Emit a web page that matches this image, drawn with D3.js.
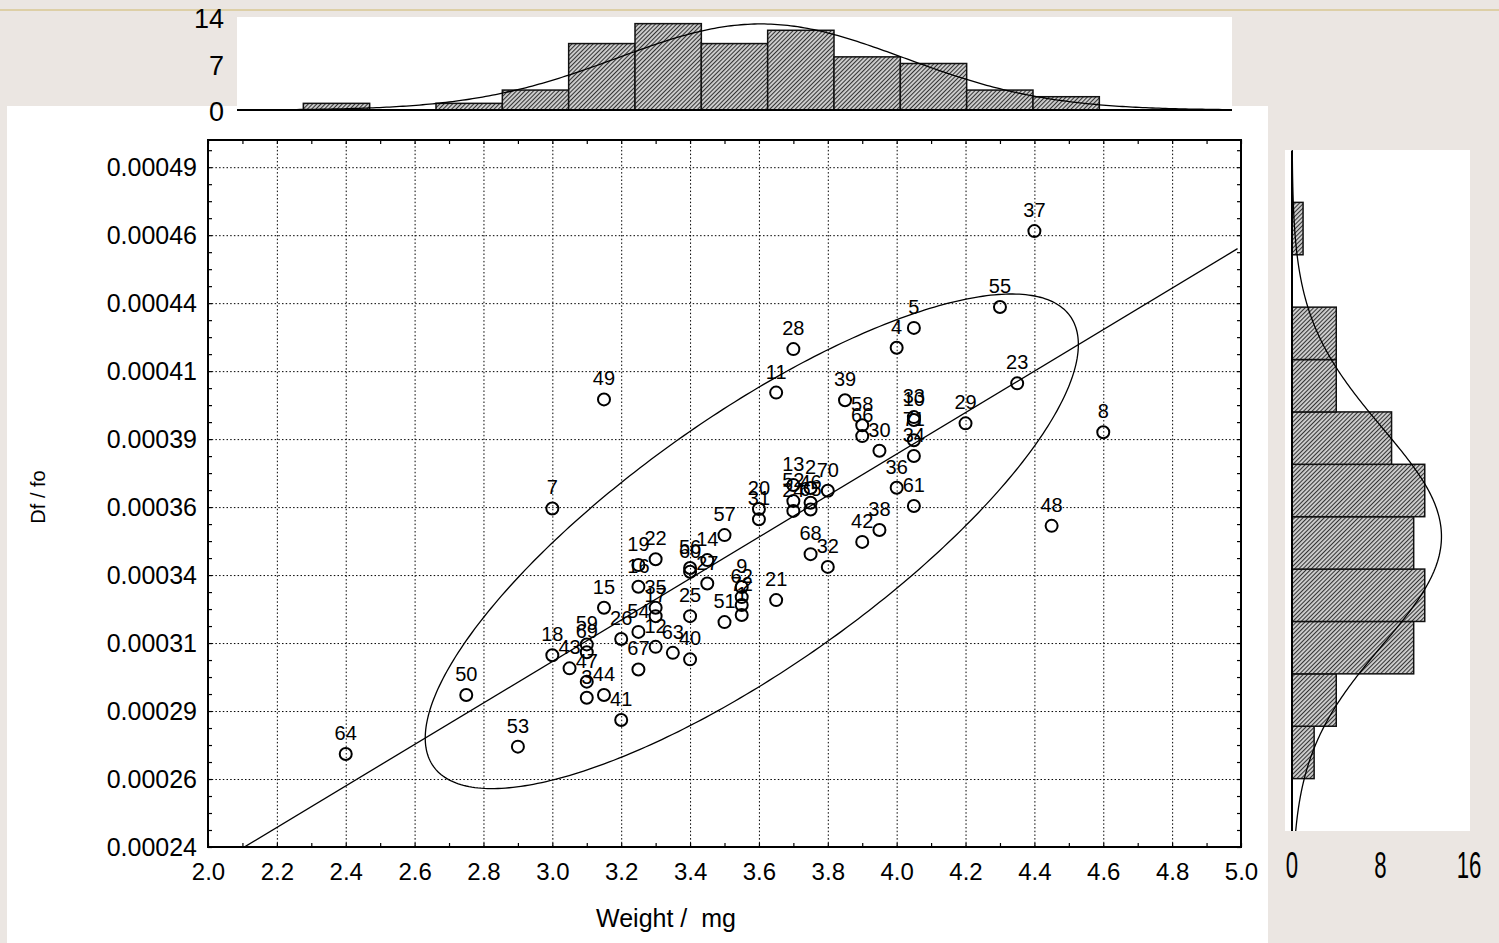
<!DOCTYPE html>
<html>
<head>
<meta charset="utf-8">
<script src="https://cdn.jsdelivr.net/npm/d3@7"></script>
<style>
html, body { margin: 0; padding: 0; background: #ebe6e2; }
svg { display: block; font-family: "Liberation Sans", Arial, sans-serif; }
</style>
</head>
<body>
<svg id="chart" width="1499" height="943"></svg>
<script>
// case numbers, weight (mg) and Df/fo
const pointIds = [64, 50, 53, 7, 18, 43, 59, 69, 47, 3,
  49, 15, 44, 26, 41, 19, 16, 54, 67, 22,
  35, 17, 12, 63, 56, 60, 25, 40, 14, 27,
  57, 51, 9, 62, 72, 1, 20, 31, 21, 11,
  28, 13, 52, 24, 2, 46, 65, 68, 70, 32,
  39, 58, 66, 42, 30, 38, 4, 36, 5, 33,
  10, 71, 34, 61, 29, 55, 23, 37, 48, 8];
const weights = [2.40, 2.75, 2.90, 3.00, 3.00, 3.05, 3.10, 3.10, 3.10, 3.10,
  3.15, 3.15, 3.15, 3.20, 3.20, 3.25, 3.25, 3.25, 3.25, 3.30,
  3.30, 3.30, 3.30, 3.35, 3.40, 3.40, 3.40, 3.40, 3.45, 3.45,
  3.50, 3.50, 3.55, 3.55, 3.55, 3.55, 3.60, 3.60, 3.65, 3.65,
  3.70, 3.70, 3.70, 3.70, 3.75, 3.75, 3.75, 3.75, 3.80, 3.80,
  3.85, 3.90, 3.90, 3.90, 3.95, 3.95, 4.00, 4.00, 4.05, 4.05,
  4.05, 4.05, 4.05, 4.05, 4.20, 4.30, 4.35, 4.40, 4.45, 4.60];
const dffo = [0.0002742, 0.0002959, 0.0002769, 0.0003645, 0.0003105, 0.0003057, 0.0003145, 0.0003116, 0.0003008, 0.0002949,
  0.0004046, 0.0003280, 0.0002959, 0.0003165, 0.0002867, 0.0003437, 0.0003357, 0.0003191, 0.0003053, 0.0003458,
  0.0003280, 0.0003249, 0.0003136, 0.0003114, 0.0003426, 0.0003412, 0.0003249, 0.0003090, 0.0003455, 0.0003369,
  0.0003547, 0.0003227, 0.0003356, 0.0003319, 0.0003290, 0.0003253, 0.0003643, 0.0003605, 0.0003308, 0.0004071,
  0.0004231, 0.0003731, 0.0003672, 0.0003636, 0.0003720, 0.0003666, 0.0003641, 0.0003477, 0.0003710, 0.0003430,
  0.0004043, 0.0003951, 0.0003911, 0.0003522, 0.0003857, 0.0003566, 0.0004236, 0.0003721, 0.0004309, 0.0003981,
  0.0003970, 0.0003896, 0.0003838, 0.0003654, 0.0003958, 0.0004386, 0.0004105, 0.0004665, 0.0003581, 0.0003925];

const xTickValues = [2.0, 2.2, 2.4, 2.6, 2.8, 3.0, 3.2, 3.4, 3.6, 3.8, 4.0, 4.2, 4.4, 4.6, 4.8, 5.0];
const yTickValues = [0.00024, 0.000265, 0.00029, 0.000315, 0.00034, 0.000365, 0.00039, 0.000415, 0.00044, 0.000465, 0.00049];
const yTickLabels = ["0.00024", "0.00026", "0.00029", "0.00031", "0.00034", "0.00036", "0.00039", "0.00041", "0.00044", "0.00046", "0.00049"];

const topBinEdges = [2.2, 2.4, 2.6, 2.8, 3.0, 3.2, 3.4, 3.6, 3.8, 4.0, 4.2, 4.4, 4.6];
const topCountTicks = [0, 7, 14];
const rightBinEdges = [0.00026, 0.00028, 0.0003, 0.00032, 0.00034, 0.00036, 0.00038, 0.0004, 0.00042, 0.00044, 0.00046, 0.00048];
const rightCountTicks = [0, 8, 16];

const ELLIPSE_K = 2.2;   // size of the ellipse
const FONT = "Liberation Sans, Arial, sans-serif";

const svg = d3.select("#chart");

// thin rule at the top of the page
svg.append("line")
    .attr("x1", 0).attr("x2", 1499).attr("y1", 10).attr("y2", 10)
    .attr("stroke", "#d8c792").attr("stroke-width", 1.5);

// white panels
svg.append("rect").attr("x", 7).attr("y", 106).attr("width", 1261).attr("height", 837).attr("fill", "#fff");
svg.append("rect").attr("x", 237).attr("y", 17).attr("width", 995).attr("height", 93).attr("fill", "#fff");
svg.append("rect").attr("x", 1285).attr("y", 150).attr("width", 185).attr("height", 681).attr("fill", "#fff");

// hatch for histogram bars
const defs = svg.append("defs");
const pat = defs.append("pattern")
    .attr("id", "hatch")
    .attr("patternUnits", "userSpaceOnUse")
    .attr("width", 3).attr("height", 3)
    .attr("patternTransform", "rotate(45)");
pat.append("rect").attr("width", 3).attr("height", 3).attr("fill", "#cfcfcf");
pat.append("line").attr("x1", 0.5).attr("y1", 0).attr("x2", 0.5).attr("y2", 3)
    .attr("stroke", "#333").attr("stroke-width", 1.1);

defs.append("clipPath").attr("id", "plotClip")
    .append("rect").attr("x", 208).attr("y", 140).attr("width", 1033).attr("height", 707);

// stats
const pts = pointIds.map((id, i) => ({ id: id, w: weights[i], v: dffo[i] }));
const n = pts.length;
const mx = d3.mean(weights), my = d3.mean(dffo);
const sx = d3.deviation(weights), sy = d3.deviation(dffo);
const r = d3.sum(pts, p => (p.w - mx) * (p.v - my)) / ((n - 1) * sx * sy);
const slope = r * sy / sx;
const icpt = my - slope * mx;

// ----------------------
// main scatter
// ----------------------
const x = d3.scaleLinear().domain([2.0, 5.0]).range([208, 1241]);
const y = d3.scaleLinear().domain([0.00024, 0.0005]).range([847, 140]);
const plotTop = 140, plotBottom = 847, plotLeft = 208, plotRight = 1241;

// dotted grid
svg.append("g")
    .attr("transform", `translate(0,${plotBottom})`)
    .call(d3.axisBottom(x).tickValues(xTickValues).tickSize(-(plotBottom - plotTop)).tickFormat(""))
    .call(g => g.select(".domain").remove())
    .selectAll("line").attr("stroke", "#000").attr("stroke-width", 1).attr("stroke-dasharray", "1.5,2.2");
svg.append("g")
    .attr("transform", `translate(${plotLeft},0)`)
    .call(d3.axisLeft(y).tickValues(yTickValues).tickSize(-(plotRight - plotLeft)).tickFormat(""))
    .call(g => g.select(".domain").remove())
    .selectAll("line").attr("stroke", "#000").attr("stroke-width", 1).attr("stroke-dasharray", "1.5,2.2");

// inward tick marks on all sides
const xMinor = d3.range(2.0, 5.001, 0.1);
const yMinor = d3.range(0.00024, 0.0005001, 0.00000625);
function ticks(axis, tr) {
    svg.append("g").attr("transform", tr).call(axis)
        .call(g => g.select(".domain").remove())
        .selectAll("line").attr("stroke", "#000").attr("stroke-width", 1.2);
}
ticks(d3.axisBottom(x).tickValues(xMinor).tickSize(-4).tickFormat(""), `translate(0,${plotBottom})`);
ticks(d3.axisTop(x).tickValues(xMinor).tickSize(-4).tickFormat(""), `translate(0,${plotTop})`);
ticks(d3.axisLeft(y).tickValues(yMinor).tickSize(-4).tickFormat(""), `translate(${plotLeft},0)`);
ticks(d3.axisRight(y).tickValues(yMinor).tickSize(-4).tickFormat(""), `translate(${plotRight},0)`);

// tick labels
svg.append("g")
    .attr("transform", `translate(0,${plotBottom})`)
    .call(d3.axisBottom(x).tickValues(xTickValues).tickSize(0).tickPadding(16).tickFormat(d3.format(".1f")))
    .call(g => g.select(".domain").remove())
    .attr("font-family", FONT).attr("font-size", 24)
    .selectAll("text").attr("fill", "#000");
svg.append("g")
    .attr("transform", `translate(${plotLeft},0)`)
    .call(d3.axisLeft(y).tickValues(yTickValues).tickSize(0).tickPadding(11).tickFormat((d, i) => yTickLabels[i]))
    .call(g => g.select(".domain").remove())
    .attr("font-family", FONT).attr("font-size", 25)
    .selectAll("text").attr("fill", "#000");

// axis titles
svg.append("text")
    .attr("x", 666).attr("y", 918)
    .attr("text-anchor", "middle").attr("dominant-baseline", "central")
    .attr("font-size", 25).style("white-space", "pre")
    .text("Weight /  mg");
svg.append("text")
    .attr("transform", "translate(38,497) rotate(-90)")
    .attr("text-anchor", "middle").attr("dominant-baseline", "central")
    .attr("font-size", 20)
    .text("Df / fo");

// regression line and ellipse
const inner = svg.append("g").attr("clip-path", "url(#plotClip)");
inner.append("line")
    .attr("x1", x(2.0)).attr("y1", y(icpt + slope * 2.0))
    .attr("x2", x(4.99)).attr("y2", y(icpt + slope * 4.99))
    .attr("stroke", "#000").attr("stroke-width", 1.3);

const angles = d3.range(0, 360, 1).map(a => a * Math.PI / 180);
const ellipsePts = angles.map(t => [
    mx + ELLIPSE_K * sx * Math.cos(t),
    my + ELLIPSE_K * sy * (r * Math.cos(t) + Math.sqrt(1 - r * r) * Math.sin(t))
]);
inner.append("path")
    .attr("d", d3.line().x(d => x(d[0])).y(d => y(d[1])).curve(d3.curveLinearClosed)(ellipsePts))
    .attr("fill", "none").attr("stroke", "#000").attr("stroke-width", 1.3);

// points + case labels
svg.append("g").selectAll("circle")
    .data(pts).join("circle")
    .attr("cx", d => x(d.w)).attr("cy", d => y(d.v)).attr("r", 6)
    .attr("fill", "none").attr("stroke", "#000").attr("stroke-width", 2);
svg.append("g").selectAll("text")
    .data(pts).join("text")
    .attr("x", d => x(d.w)).attr("y", d => y(d.v) - 14)
    .attr("text-anchor", "middle").attr("font-size", 20)
    .text(d => d.id);

// frame
svg.append("rect")
    .attr("x", plotLeft).attr("y", plotTop)
    .attr("width", plotRight - plotLeft).attr("height", plotBottom - plotTop)
    .attr("fill", "none").attr("stroke", "#000").attr("stroke-width", 2);

// ----------------------
// top histogram (weight)
// ----------------------
const tx = d3.scaleLinear().domain([2.0, 5.0]).range([237, 1232]);
const ty = d3.scaleLinear().domain([0, 14]).range([110, 17]);
const topBins = d3.bin()
    .value(w => w - 1e-9)   // bins are closed on the right
    .domain([topBinEdges[0], topBinEdges[topBinEdges.length - 1]])
    .thresholds(topBinEdges.slice(1, -1))(weights);

svg.append("g").selectAll("rect")
    .data(topBins.filter(b => b.length > 0)).join("rect")
    .attr("x", b => tx(b.x0)).attr("width", b => tx(b.x1) - tx(b.x0))
    .attr("y", b => ty(b.length)).attr("height", b => ty(0) - ty(b.length))
    .attr("fill", "url(#hatch)").attr("stroke", "#111").attr("stroke-width", 1.5);

const topBinW = topBinEdges[1] - topBinEdges[0];
const topCurve = d3.range(2.0, 5.0001, 0.01).map(v =>
    [v, n * topBinW * Math.exp(-0.5 * ((v - mx) / sx) ** 2) / (sx * Math.sqrt(2 * Math.PI))]);
svg.append("path")
    .attr("d", d3.line().x(d => tx(d[0])).y(d => ty(d[1]))(topCurve))
    .attr("fill", "none").attr("stroke", "#000").attr("stroke-width", 1.3);

svg.append("line")
    .attr("x1", 237).attr("x2", 1232).attr("y1", ty(0)).attr("y2", ty(0))
    .attr("stroke", "#000").attr("stroke-width", 2);

svg.append("g").selectAll("text")
    .data(topCountTicks).join("text")
    .attr("x", 224).attr("y", d => ty(d) + 2)
    .attr("text-anchor", "end").attr("dominant-baseline", "central")
    .attr("font-size", 27)
    .text(d => d);

// ----------------------
// right histogram (Df/fo)
// ----------------------
const rx = d3.scaleLinear().domain([0, 16]).range([1292, 1469]);
const ry = d3.scaleLinear().domain([0.00024, 0.0005]).range([831, 150]);
const rightBins = d3.bin()
    .domain([rightBinEdges[0], rightBinEdges[rightBinEdges.length - 1]])
    .thresholds(rightBinEdges.slice(1, -1))(dffo);

svg.append("g").selectAll("rect")
    .data(rightBins.filter(b => b.length > 0)).join("rect")
    .attr("x", rx(0)).attr("width", b => rx(b.length) - rx(0))
    .attr("y", b => ry(b.x1)).attr("height", b => ry(b.x0) - ry(b.x1))
    .attr("fill", "url(#hatch)").attr("stroke", "#111").attr("stroke-width", 1.5);

const rightBinW = rightBinEdges[1] - rightBinEdges[0];
const rightCurve = d3.range(0.00024, 0.0005, 0.000001).map(v =>
    [v, n * rightBinW * Math.exp(-0.5 * ((v - my) / sy) ** 2) / (sy * Math.sqrt(2 * Math.PI))]);
svg.append("path")
    .attr("d", d3.line().x(d => rx(d[1])).y(d => ry(d[0]))(rightCurve))
    .attr("fill", "none").attr("stroke", "#000").attr("stroke-width", 1.3);

svg.append("line")
    .attr("x1", rx(0)).attr("x2", rx(0)).attr("y1", 151).attr("y2", 831)
    .attr("stroke", "#000").attr("stroke-width", 2);

svg.append("g").selectAll("g")
    .data(rightCountTicks).join("g")
    .attr("transform", d => `translate(${rx(d)},865) scale(0.6,1)`)
    .append("text")
    .attr("text-anchor", "middle").attr("dominant-baseline", "central")
    .attr("font-size", 37)
    .text(d => d);
</script>
</body>
</html>
